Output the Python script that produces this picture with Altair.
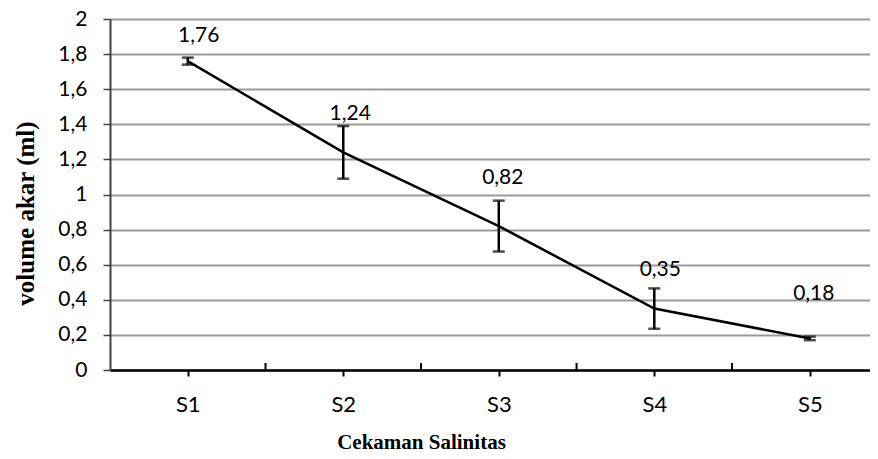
import altair as alt
import pandas as pd

categories = ["S1", "S2", "S3", "S4", "S5"]
means = [1.76, 1.24, 0.82, 0.35, 0.18]
errors = [0.02, 0.15, 0.145, 0.115, 0.01]

# label placement offsets (pixels, relative to each point)
label_dx = [11, 7, 4, 6, 4]
label_dy = [-25, -38, -48, -39, -44]

PLOT_W, PLOT_H = 760, 351
X_DOMAIN = [0.5, 5.387]
Y_DOMAIN = [0, 2]
px_per_x = PLOT_W / (X_DOMAIN[1] - X_DOMAIN[0])
px_per_y = PLOT_H / (Y_DOMAIN[1] - Y_DOMAIN[0])

idx = list(range(1, len(categories) + 1))
df = pd.DataFrame({
    "idx": idx,
    "cat": categories,
    "mean": means,
    "lo": [m - e for m, e in zip(means, errors)],
    "hi": [m + e for m, e in zip(means, errors)],
    "label": [f"{m:.2f}".replace(".", ",") for m in means],
    "dx": label_dx,
    "dy": label_dy,
})
bounds = pd.DataFrame({"b": [i + 0.5 for i in idx[:-1]], "y0": 0.0, "y1": 0.04})

FONT = "Lato"
SERIF = "Liberation Serif"

xscale = alt.Scale(domain=X_DOMAIN, nice=False, zero=False)
yscale = alt.Scale(domain=Y_DOMAIN, nice=False)

x_axis = alt.Axis(
    values=idx, labelExpr="'S' + datum.value", grid=False,
    domainColor="black", domainWidth=2.5, tickColor="black", tickWidth=2,
    tickSize=6, labelPadding=18, labelFont=FONT, labelFontSize=22,
    labelColor="black", labelOverlap=False, title="Cekaman Salinitas",
    titleFont=SERIF, titleFontSize=21, titleFontWeight="bold",
    titleColor="black", titleX=311, titleY=72, titleAlign="center",
    titleBaseline="middle",
)
y_axis = alt.Axis(
    values=[round(i * 0.2, 1) for i in range(11)],
    labelExpr="replace(toString(round(datum.value*10)/10), '.', ',')",
    labelOverlap=False,
    gridColor="#9a9a9a", gridWidth=2, domainColor="#404040", domainWidth=2,
    tickColor="#404040", tickWidth=1.5, tickSize=7, labelPadding=16,
    labelFont=FONT, labelFontSize=21, labelColor="black",
    title="volume akar (ml)", titleFont=SERIF, titleFontSize=25,
    titleFontWeight="bold", titleColor="black", titleAngle=-90,
    titleX=-85, titleY=194, titleAlign="center", titleBaseline="middle",
)


def xq(field):
    return alt.X(field, type="quantitative", scale=xscale, axis=x_axis)


def yq(field):
    return alt.Y(field, type="quantitative", scale=yscale, axis=y_axis)


base = alt.Chart(df)

line = base.mark_line(color="black", strokeWidth=2.5).encode(x=xq("idx"), y=yq("mean"))

err = base.mark_rule(color="black", strokeWidth=2.5).encode(
    x=xq("idx"), y=yq("lo"), y2="hi:Q"
)
cap_hi = base.mark_tick(color="black", thickness=2.5, size=12, orient="horizontal").encode(
    x=xq("idx"), y=yq("hi")
)
cap_lo = base.mark_tick(color="black", thickness=2.5, size=12, orient="horizontal").encode(
    x=xq("idx"), y=yq("lo")
)

labels = base.transform_calculate(
    lx=f"datum.idx + datum.dx / {px_per_x}",
    ly=f"datum.mean - datum.dy / {px_per_y}",
).mark_text(font=FONT, fontSize=21, color="black", baseline="middle", align="center").encode(
    x=xq("lx"), y=yq("ly"), text="label:N",
)

bticks = alt.Chart(bounds).mark_rule(color="black", strokeWidth=2).encode(
    x=xq("b"), y=yq("y0"), y2="y1:Q"
)

chart = alt.layer(line, err, cap_hi, cap_lo, bticks, labels).properties(
    width=PLOT_W, height=PLOT_H,
    autosize=alt.AutoSizeParams(type="none"),
    padding={"left": 102, "top": 11, "right": 0, "bottom": 88},
).configure_view(stroke=None).configure(background="white")

chart.save("out.html", embed_options={"renderer": "svg", "actions": False})
